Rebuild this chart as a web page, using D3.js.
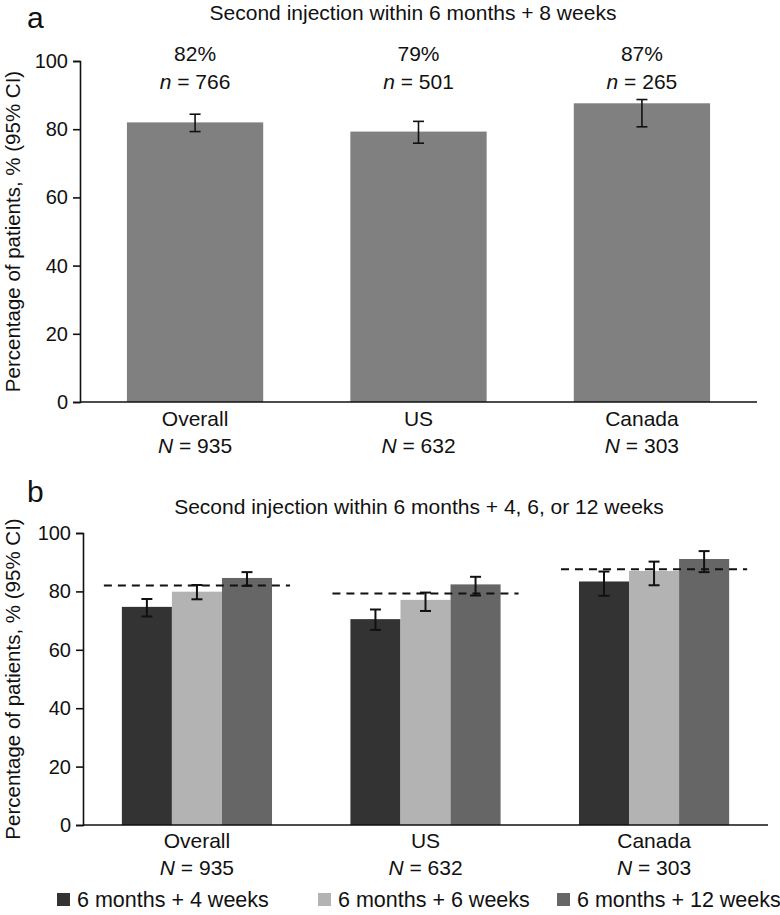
<!DOCTYPE html>
<html>
<head>
<meta charset="utf-8">
<script src="https://cdn.jsdelivr.net/npm/d3@7"></script>
<style>
  html, body { margin: 0; padding: 0; background: #fff; }
  svg text { font-family: "Liberation Sans", Arial, sans-serif; fill: #111; }
</style>
</head>
<body>
<svg id="chart" width="780" height="915"></svg>
<script>
// ---------- DATA ----------
const categories = ["Overall", "US", "Canada"];
const categoryN = [935, 632, 303];

// Panel a: second injection within 6 months + 8 weeks
const pct8wk = [82.0, 79.3, 87.6];
const ci8wkLow = [79.3, 75.9, 80.7];
const ci8wkHigh = [84.4, 82.3, 88.7];
const pctLabels8wk = ["82%", "79%", "87%"];
const n8wk = [766, 501, 265];

// Panel b: 4, 6, 12 weeks
const seriesNames = ["6 months + 4 weeks", "6 months + 6 weeks", "6 months + 12 weeks"];
const pct4wk = [74.7, 70.5, 83.4];
const ci4wkLow = [71.4, 66.8, 78.5];
const ci4wkHigh = [77.4, 73.8, 86.8];
const pct6wk = [79.9, 77.1, 87.0];
const ci6wkLow = [77.3, 73.3, 82.1];
const ci6wkHigh = [82.2, 79.6, 90.2];
const pct12wk = [84.6, 82.4, 91.1];
const ci12wkLow = [81.9, 78.6, 86.6];
const ci12wkHigh = [86.6, 85.0, 93.8];

const yTicks = [0, 20, 40, 60, 80, 100];

// ---------- STYLE ----------
const seriesColors = ["#333333", "#b3b3b3", "#666666"];
const barColorA = "#808080";
const fontSize = 21;
const tickFontSize = 20;

const svg = d3.select("#chart");

function yAxisPanel(g, y, x0) {
  const ax = g.append("g")
    .attr("transform", `translate(${x0},0)`)
    .call(d3.axisLeft(y).tickValues(yTicks).tickSize(7).tickPadding(5));
  ax.select(".domain").attr("stroke", "#111").attr("stroke-width", 1.6);
  ax.selectAll(".tick line").attr("stroke", "#111").attr("stroke-width", 1.6);
  ax.selectAll(".tick text").style("font-size", tickFontSize + "px")
    .style("font-family", '"Liberation Sans", Arial, sans-serif').attr("fill", "#111");
}

function catLabels(g, x, yBase, centerOf) {
  categories.forEach((c, i) => {
    const cx = centerOf(c);
    g.append("text").attr("x", cx).attr("y", yBase).attr("text-anchor", "middle")
      .style("font-size", fontSize + "px").text(c);
    const t = g.append("text").attr("x", cx).attr("y", yBase + 27).attr("text-anchor", "middle")
      .style("font-size", fontSize + "px");
    t.append("tspan").style("font-style", "italic").text("N");
    t.append("tspan").text(" = " + categoryN[i]);
  });
}

function errorBar(g, cx, yLo, yHi, cap, sw) {
  g.append("line").attr("x1", cx).attr("x2", cx).attr("y1", yLo).attr("y2", yHi)
    .attr("stroke", "#111").attr("stroke-width", sw);
  [yLo, yHi].forEach(yy => g.append("line").attr("x1", cx - cap / 2).attr("x2", cx + cap / 2)
    .attr("y1", yy).attr("y2", yy).attr("stroke", "#111").attr("stroke-width", sw));
}

function yLabel(g, cx, cy) {
  g.append("text").attr("transform", `translate(${cx},${cy}) rotate(-90)`)
    .attr("text-anchor", "middle").style("font-size", "20.5px")
    .text("Percentage of patients, % (95% CI)");
}

// ---------- PANEL A ----------
{
  const g = svg.append("g");
  const x0 = 80, x1 = 757, yTop = 61, yBot = 402;
  const y = d3.scaleLinear().domain([0, 100]).range([yBot, yTop]);
  const x = d3.scaleBand().domain(categories).range([x0, x1]).paddingInner(0.39).paddingOuter(0.21);

  g.selectAll("rect.bar").data(categories).join("rect")
    .attr("class", "bar")
    .attr("x", d => x(d)).attr("width", x.bandwidth())
    .attr("y", (d, i) => y(pct8wk[i])).attr("height", (d, i) => y(0) - y(pct8wk[i]))
    .attr("fill", barColorA);

  categories.forEach((c, i) => {
    const cx = x(c) + x.bandwidth() / 2;
    errorBar(g, cx, y(ci8wkLow[i]), y(ci8wkHigh[i]), 11, 1.6);
    g.append("text").attr("x", cx).attr("y", 61).attr("text-anchor", "middle")
      .style("font-size", fontSize + "px").text(pctLabels8wk[i]);
    const t = g.append("text").attr("x", cx).attr("y", 89).attr("text-anchor", "middle")
      .style("font-size", fontSize + "px");
    t.append("tspan").style("font-style", "italic").text("n");
    t.append("tspan").text(" = " + n8wk[i]);
  });

  yAxisPanel(g, y, x0);
  g.append("line").attr("x1", x0).attr("x2", x1).attr("y1", yBot).attr("y2", yBot)
    .attr("stroke", "#111").attr("stroke-width", 1.6);

  catLabels(g, x, 426, c => x(c) + x.bandwidth() / 2);
  yLabel(g, 20, (yTop + yBot) / 2);

  g.append("text").attr("x", 413).attr("y", 20).attr("text-anchor", "middle")
    .style("font-size", fontSize + "px").text("Second injection within 6 months + 8 weeks");
  g.append("text").attr("x", 27).attr("y", 28).style("font-size", "30px").text("a");
}

// ---------- PANEL B ----------
{
  const g = svg.append("g");
  const x0 = 83, x1 = 768, yTop = 533, yBot = 825;
  const y = d3.scaleLinear().domain([0, 100]).range([yBot, yTop]);
  const x = d3.scaleBand().domain(categories).range([x0, x1]).paddingInner(0.343).paddingOuter(0.17);
  const xs = d3.scaleBand().domain(seriesNames).range([0, x.bandwidth()]);

  const vals = [pct4wk, pct6wk, pct12wk];
  const lows = [ci4wkLow, ci6wkLow, ci12wkLow];
  const highs = [ci4wkHigh, ci6wkHigh, ci12wkHigh];

  categories.forEach((c, i) => {
    seriesNames.forEach((s, j) => {
      g.append("rect")
        .attr("x", x(c) + xs(s)).attr("width", xs.bandwidth())
        .attr("y", y(vals[j][i])).attr("height", y(0) - y(vals[j][i]))
        .attr("fill", seriesColors[j]);
    });
  });

  // dashed reference lines (panel a values)
  categories.forEach((c, i) => {
    g.append("line")
      .attr("x1", x(c) - 18).attr("x2", x(c) + x.bandwidth() + 18)
      .attr("y1", y(pct8wk[i])).attr("y2", y(pct8wk[i]))
      .attr("stroke", "#111").attr("stroke-width", 2).attr("stroke-dasharray", "8,6");
  });

  categories.forEach((c, i) => {
    seriesNames.forEach((s, j) => {
      const cx = x(c) + xs(s) + xs.bandwidth() / 2;
      errorBar(g, cx, y(lows[j][i]), y(highs[j][i]), 11, 2);
    });
  });

  yAxisPanel(g, y, x0);
  g.append("line").attr("x1", x0).attr("x2", x1).attr("y1", yBot).attr("y2", yBot)
    .attr("stroke", "#111").attr("stroke-width", 1.6);

  catLabels(g, x, 848, c => x(c) + x.bandwidth() / 2);
  yLabel(g, 20, (yTop + yBot) / 2);

  g.append("text").attr("x", 419).attr("y", 514).attr("text-anchor", "middle")
    .style("font-size", fontSize + "px").text("Second injection within 6 months + 4, 6, or 12 weeks");
  g.append("text").attr("x", 27).attr("y", 502).style("font-size", "30px").text("b");

  // legend
  const legX = [57, 318, 557];
  seriesNames.forEach((s, j) => {
    g.append("rect").attr("x", legX[j]).attr("y", 893).attr("width", 13).attr("height", 13)
      .attr("fill", seriesColors[j]);
    g.append("text").attr("x", legX[j] + 20).attr("y", 907)
      .style("font-size", "21.5px").text(s);
  });
}
</script>
</body>
</html>
